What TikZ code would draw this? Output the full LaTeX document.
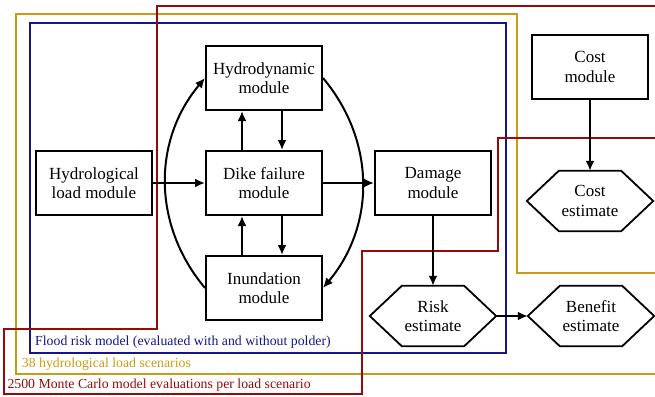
\documentclass[tikz,border=0pt]{standalone}
\usepackage{fontspec}
\setmainfont{Liberation Serif}
\usetikzlibrary{arrows.meta,calc}
\definecolor{fblue}{RGB}{20,20,140}
\definecolor{fgold}{RGB}{200,155,20}
\definecolor{fred}{RGB}{150,10,10}
\newcommand\hexdraw[1]{\draw[line width=1.8pt,line join=miter] (#1.west) -- ($(#1.north west)+(32,0)$) -- ($(#1.north east)+(-32,0)$) -- (#1.east) -- ($(#1.south east)+(-32,0)$) -- ($(#1.south west)+(32,0)$) -- cycle;}
\begin{document}
\begin{tikzpicture}[x=1pt,y=-1pt,
  box/.style={draw,line width=2pt,fill=white,minimum width=116pt,minimum height=64pt,inner sep=0pt,align=center,font=\fontsize{17}{19.5}\selectfont},
  hexbox/.style={minimum width=126pt,minimum height=60pt,inner sep=0pt,align=center,font=\fontsize{17}{19.5}\selectfont},
  arr/.style={line width=2pt,-{Latex[length=10pt,width=9pt]}},
  frame/.style={line width=2pt},
  lab/.style={anchor=base west,inner sep=0pt,font=\fontsize{13.8}{15}\selectfont}]
\useasboundingbox (0,0) rectangle (655,396);
\clip (0,0) rectangle (655,396);
% frames
\draw[frame,fblue] (30,23) rectangle (506,353);
\draw[frame,fgold] (700,273) -- (517,273) -- (517,14) -- (16,14) -- (16,374) -- (700,374);
\draw[frame,fred] (700,6) -- (157,6) -- (157,329) -- (4,329) -- (4,394) -- (362,394) -- (362,251) -- (498,251) -- (498,138) -- (700,138);
\node[lab,text=fblue] (lblue) at (35,345) {Flood risk model (evaluated with and without polder)};
\node[lab,text=fgold] (lgold) at (21.7,367.7) {38 hydrological load scenarios};
\node[lab,text=fred] (lred) at (7.3,388.7) {2500 Monte Carlo model evaluations per load scenario};
% nodes
\node[box] (hyl) at (94,183) {Hydrological\\load module};
\node[box] (hdy) at (264,78) {Hydrodynamic\\module};
\node[box] (dike) at (264,183) {Dike failure\\module};
\node[box] (inu) at (264,288) {Inundation\\module};
\node[box] (dam) at (433,183) {Damage\\module};
\node[box] (cost) at (590,67) {Cost\\module};
\node[hexbox] (cest) at (590,201) {Cost\\estimate};
\node[hexbox] (risk) at (433,316) {Risk\\estimate};
\node[hexbox] (ben) at (591,316) {Benefit\\estimate};
\hexdraw{cest}
\hexdraw{risk}
\hexdraw{ben}
% connectors
\draw[arr] (hyl) -- (dike);
\draw[arr] (dike) -- (dam);
\draw[arr] ([xshift=-22pt]dike.north) -- ([xshift=-22pt]hdy.south);
\draw[arr] ([xshift=18pt]hdy.south) -- ([xshift=18pt]dike.north);
\draw[arr] ([xshift=-22pt]inu.north) -- ([xshift=-22pt]dike.south);
\draw[arr] ([xshift=18pt]dike.south) -- ([xshift=18pt]inu.north);
\draw[arr] (inu.west) to[bend left=40] (hdy.west);
\draw[arr] (hdy.east) to[bend left=40] (inu.east);
\draw[arr] (dam) -- (risk);
\draw[arr] (cost) -- (cest);
\draw[arr] (risk.east) -- (ben.west);
\end{tikzpicture}
\end{document}
